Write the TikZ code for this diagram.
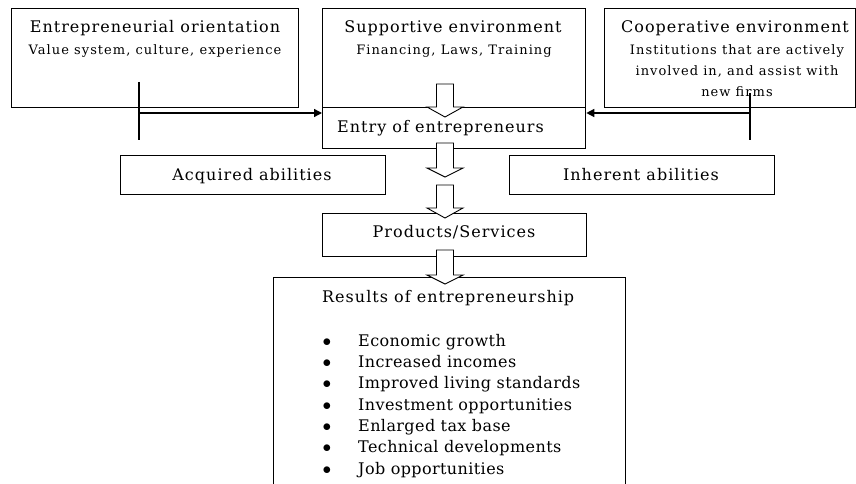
\documentclass[tikz,border=0pt]{standalone}
\usepackage{fontspec}
\setmainfont{DejaVu Serif}
\newfontfamily\titleface[LetterSpace=6.3]{DejaVu Serif}
\newfontfamily\subface[LetterSpace=8]{DejaVu Serif}
\newfontfamily\listface[LetterSpace=2.5]{DejaVu Serif}
\usetikzlibrary{arrows.meta}
\newcommand{\titlefont}{\titleface\fontsize{16}{19}\selectfont}
\newcommand{\subfont}{\subface\fontsize{13}{21}\selectfont}
\newcommand{\listfont}{\listface\fontsize{16}{19}\selectfont}
\begin{document}
\begin{tikzpicture}[x=1pt,y=-1pt,
  box/.style={draw,line width=1.3pt,rectangle,inner sep=0pt,anchor=north west},
  label/.style={inner sep=0pt,anchor=base,font=\titlefont},
  sub/.style={inner sep=0pt,anchor=base,font=\subfont},
  item/.style={inner sep=0pt,anchor=base west,font=\listfont},
  dot/.style={inner sep=0pt,anchor=base,font=\fontsize{16}{19}\selectfont},
  feed/.style={line width=1.4pt,-{Triangle[length=8pt,width=8pt]}},
  tick/.style={line width=1.2pt},
  blockarrow/.style={draw,fill=white,line width=0.9pt,line join=miter}]
\useasboundingbox (0,0) rectangle (856,484);
\clip (0,0) rectangle (856,484);

% boxes
\node[box,minimum width=287pt,minimum height=99pt] (eo) at (11,8) {};
\node[box,minimum width=263pt,minimum height=99pt] (se) at (322,8) {};
\node[box,minimum width=251pt,minimum height=99pt] (ce) at (604,8) {};
\node[box,minimum width=263pt,minimum height=41pt] (entry) at (322,107) {};
\node[box,minimum width=265pt,minimum height=39pt] (acq) at (120,155) {};
\node[box,minimum width=265pt,minimum height=39pt] (inh) at (509,155) {};
\node[box,minimum width=264pt,minimum height=43pt] (prod) at (322,213) {};
\node[box,minimum width=352pt,minimum height=230pt] (res) at (273,277) {};

% box texts
\node[label] (eoT) at (155,33) {Entrepreneurial orientation};
\node[sub] (eoS) at (155,55) {Value system, culture, experience};
\node[label] (seT) at (453,33) {Supportive environment};
\node[sub] (seS) at (454,55) {Financing, Laws, Training};
\node[label] (ceT) at (735,33) {Cooperative environment};
\node[sub] (ceS1) at (737,55) {Institutions that are actively};
\node[sub] (ceS2) at (737,76) {involved in, and assist with};
\node[sub] (ceS3) at (737,97) {new firms};
\node[label,anchor=base west] (entryT) at (337,132) {Entry of entrepreneurs};
\node[label] (acqT) at (252,180) {Acquired abilities};
\node[label] (inhT) at (641,180) {Inherent abilities};
\node[label] (prodT) at (454,237) {Products/Services};
\node[label,anchor=base west] (resT) at (322,302) {Results of entrepreneurship};

% list of results
\foreach \t [count=\i from 0] in {Economic growth,Increased incomes,Improved living standards,Investment opportunities,Enlarged tax base,Technical developments,Job opportunities}{
  \node[dot] (b\i) at (327,346+21.35*\i) {$\bullet$};
  \node[item] (r\i) at (358,346+21.35*\i) {\t};
}

% side feeds into the entry box
\coordinate (lTop) at (139,82);
\coordinate (lBot) at (139,140);
\coordinate (lMid) at (139,113);
\coordinate (rTop) at (750,93);
\coordinate (rBot) at (750,140);
\coordinate (rMid) at (750,113);
\draw[tick] (lTop) -- (lBot);
\draw[tick] (rTop) -- (rBot);
\draw[feed] (lMid) -- (lMid -| entry.west);
\draw[feed] (rMid) -- (rMid -| entry.east);

% hollow block arrows down the centre
\newcommand{\blockdown}[3]{% top of shaft, start of head, tip
  \draw[blockarrow] (436.5,#1) -- (453.5,#1) -- (453.5,#2) -- (463,#2) -- (445,#3)
    -- (427,#2) -- (436.5,#2) -- cycle;}
\blockdown{84}{107}{117}
\blockdown{143}{168}{177}
\blockdown{185}{208}{218}
\blockdown{250}{275}{284}
\end{tikzpicture}
\end{document}
